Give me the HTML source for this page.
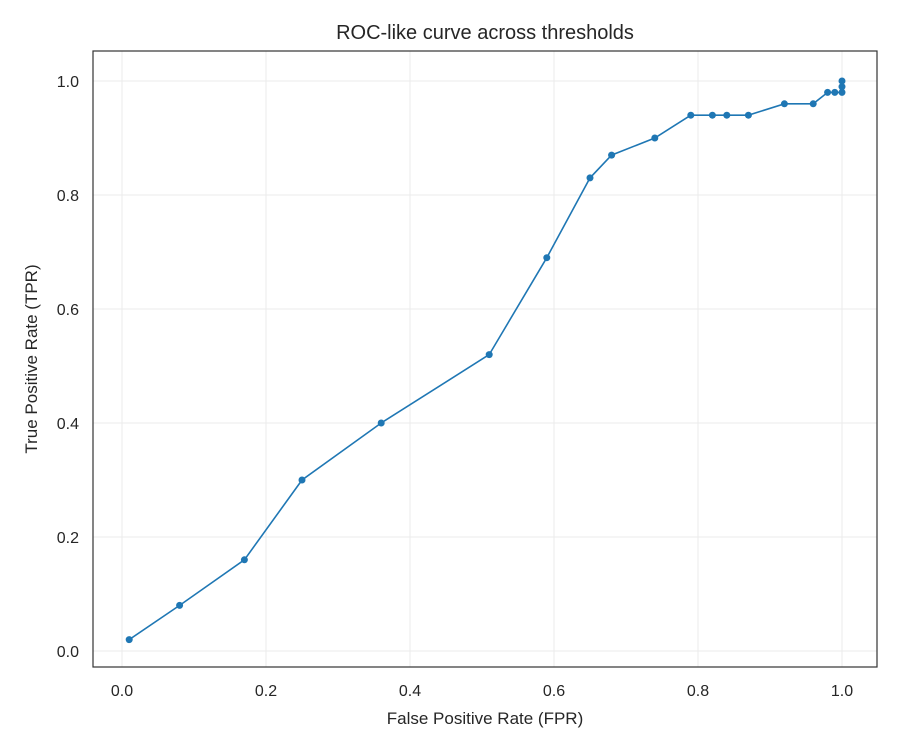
<!DOCTYPE html>
<html><head><meta charset="utf-8"><style>
html,body{margin:0;padding:0;background:#fff;}
svg{display:block;font-family:"Liberation Sans","DejaVu Sans",sans-serif;}
</style></head><body>
<svg width="900" height="750" xmlns="http://www.w3.org/2000/svg">
<rect width="900" height="750" fill="#fff"/>
<g stroke="#ebebeb" stroke-width="1">
<line x1="122" y1="51" x2="122" y2="667"/>
<line x1="266" y1="51" x2="266" y2="667"/>
<line x1="410" y1="51" x2="410" y2="667"/>
<line x1="554" y1="51" x2="554" y2="667"/>
<line x1="698" y1="51" x2="698" y2="667"/>
<line x1="842" y1="51" x2="842" y2="667"/>
<line x1="93" y1="651" x2="877" y2="651"/>
<line x1="93" y1="537" x2="877" y2="537"/>
<line x1="93" y1="423" x2="877" y2="423"/>
<line x1="93" y1="309" x2="877" y2="309"/>
<line x1="93" y1="195" x2="877" y2="195"/>
<line x1="93" y1="81" x2="877" y2="81"/>
</g>
<rect x="93" y="51" width="784" height="616" fill="none" stroke="#333" stroke-width="1.2"/>
<polyline fill="none" stroke="#1f77b4" stroke-width="1.6" points="129.2,639.6 179.6,605.4 244.4,559.8 302,480 381.2,423 489.2,354.6 546.8,257.7 590,177.9 611.6,155.1 654.8,138 690.8,115.2 712.4,115.2 726.8,115.2 748.4,115.2 784.4,103.8 813.2,103.8 827.6,92.4 834.8,92.4 842,92.4 842,86.7 842,81"/>
<g fill="#1f77b4">
<circle cx="129.2" cy="639.6" r="3.5"/><circle cx="179.6" cy="605.4" r="3.5"/><circle cx="244.4" cy="559.8" r="3.5"/><circle cx="302" cy="480" r="3.5"/><circle cx="381.2" cy="423" r="3.5"/><circle cx="489.2" cy="354.6" r="3.5"/><circle cx="546.8" cy="257.7" r="3.5"/><circle cx="590" cy="177.9" r="3.5"/><circle cx="611.6" cy="155.1" r="3.5"/><circle cx="654.8" cy="138" r="3.5"/><circle cx="690.8" cy="115.2" r="3.5"/><circle cx="712.4" cy="115.2" r="3.5"/><circle cx="726.8" cy="115.2" r="3.5"/><circle cx="748.4" cy="115.2" r="3.5"/><circle cx="784.4" cy="103.8" r="3.5"/><circle cx="813.2" cy="103.8" r="3.5"/><circle cx="827.6" cy="92.4" r="3.5"/><circle cx="834.8" cy="92.4" r="3.5"/><circle cx="842" cy="92.4" r="3.5"/><circle cx="842" cy="86.7" r="3.5"/><circle cx="842" cy="81" r="3.5"/>
</g>
<g font-size="16" fill="#262626" text-anchor="middle">
<text x="122" y="696">0.0</text><text x="266" y="696">0.2</text><text x="410" y="696">0.4</text><text x="554" y="696">0.6</text><text x="698" y="696">0.8</text><text x="842" y="696">1.0</text>
</g>
<g font-size="16" fill="#262626" text-anchor="end">
<text x="79" y="657">0.0</text><text x="79" y="543">0.2</text><text x="79" y="429">0.4</text><text x="79" y="315">0.6</text><text x="79" y="201">0.8</text><text x="79" y="87">1.0</text>
</g>
<text x="485" y="724" font-size="17" fill="#262626" text-anchor="middle">False Positive Rate (FPR)</text>
<text transform="translate(37,359) rotate(-90)" font-size="17" fill="#262626" text-anchor="middle">True Positive Rate (TPR)</text>
<text x="485" y="39" font-size="20" fill="#262626" text-anchor="middle">ROC-like curve across thresholds</text>
</svg>
</body></html>
